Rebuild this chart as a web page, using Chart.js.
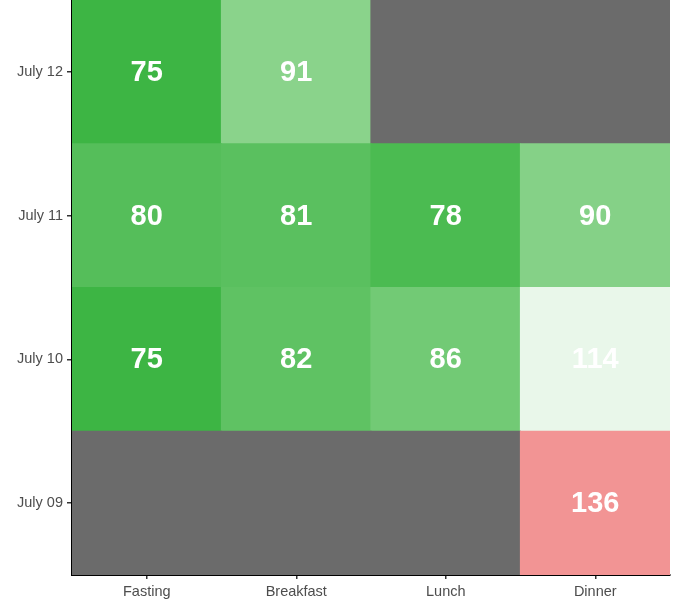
<!DOCTYPE html>
<html>
<head>
<meta charset="utf-8">
<script src="https://cdn.jsdelivr.net/npm/chart.js@4"></script>
<style>
  html, body { margin: 0; padding: 0; background: #fff; }
  #wrap { width: 678px; height: 606px; }
</style>
</head>
<body>
<div id="wrap"><canvas id="heat" width="678" height="606"></canvas></div>
<script>
// data
const meals = ['Fasting', 'Breakfast', 'Lunch', 'Dinner'];
const days = ['July 09', 'July 10', 'July 11', 'July 12'];
const july09 = [null, null, null, 136];
const july10 = [75, 82, 86, 114];
const july11 = [80, 81, 78, 90];
const july12 = [75, 91, null, null];
const rows = [july09, july10, july11, july12];
const dayTicks = [0.5, 1.5, 2.5, 3.5];

// fill scale (value -> colour)
const missingColor = '#6b6b6b';
const colorStops = [
    [75, [61, 181, 68]],
    [91, [138, 211, 139]],
    [114, [233, 247, 234]],
    [136, [242, 148, 148]]
];

let fillFor = (v) => {
    if (v === null) return missingColor;
    if (v <= colorStops[0][0]) return `rgb(${colorStops[0][1].join(',')})`;
    for (let i = 1; i < colorStops.length; i++) {
        const [v1, c1] = colorStops[i];
        const [v0, c0] = colorStops[i - 1];
        if (v <= v1) {
            const t = (v - v0) / (v1 - v0);
            const c = c0.map((x, k) => Math.round(x + (c1[k] - x) * t));
            return `rgb(${c.join(',')})`;
        }
    }
    return `rgb(${colorStops[colorStops.length - 1][1].join(',')})`;
};

const datasets = rows.map((vals, r) => ({
    label: days[r],
    data: vals.map(() => [r, r + 1]),
    values: vals,
    backgroundColor: vals.map(fillFor),
    borderWidth: 0,
    inflateAmount: 0.6,
    grouped: false,
    barPercentage: 1,
    categoryPercentage: 1
}));

// writes the value in the middle of each tile
const cellLabels = {
    id: 'cellLabels',
    afterDatasetsDraw(chart) {
        const ctx = chart.ctx;
        ctx.save();
        ctx.fillStyle = '#ffffff';
        ctx.font = 'bold 29px "Liberation Sans", Arial, sans-serif';
        ctx.textAlign = 'center';
        ctx.textBaseline = 'middle';
        chart.data.datasets.forEach((ds, i) => {
            chart.getDatasetMeta(i).data.forEach((bar, j) => {
                const v = ds.values[j];
                if (v === null) return;
                ctx.fillText(String(v), bar.x, (bar.y + bar.base) / 2 + 1);
            });
        });
        ctx.restore();
    }
};

const tickFont = { family: '"Liberation Sans", Arial, sans-serif', size: 14.5 };

new Chart(document.getElementById('heat'), {
    type: 'bar',
    data: { labels: meals, datasets: datasets },
    plugins: [cellLabels],
    options: {
        responsive: false,
        animation: false,
        layout: { padding: { top: 0, right: 8, bottom: 0, left: 0 } },
        plugins: {
            legend: { display: false },
            tooltip: { enabled: false }
        },
        scales: {
            x: {
                type: 'category',
                offset: true,
                grid: { offset: false, drawOnChartArea: false, drawTicks: true, tickLength: 4, color: '#333', lineWidth: 1.5 },
                border: { display: true, color: '#000', width: 2 },
                ticks: { color: '#4d4d4d', font: tickFont, padding: 4, maxRotation: 0 },
                afterFit: (scale) => {
                    scale.height = 31;
                    scale.paddingLeft = 0;
                    scale.paddingRight = 0;
                }
            },
            y: {
                type: 'linear',
                min: 0,
                max: 4,
                afterBuildTicks: (scale) => { scale.ticks = dayTicks.map(v => ({ value: v })); },
                grid: { drawOnChartArea: false, drawTicks: true, tickLength: 5, color: '#333', lineWidth: 1.5 },
                border: { display: true, color: '#000', width: 2 },
                ticks: {
                    color: '#4d4d4d',
                    font: tickFont,
                    padding: 4,
                    callback: (value, index) => days[index]
                },
                afterFit: (scale) => {
                    scale.width = 72;
                    scale.paddingTop = 0;
                    scale.paddingBottom = 0;
                }
            }
        }
    }
});
</script>
</body>
</html>
